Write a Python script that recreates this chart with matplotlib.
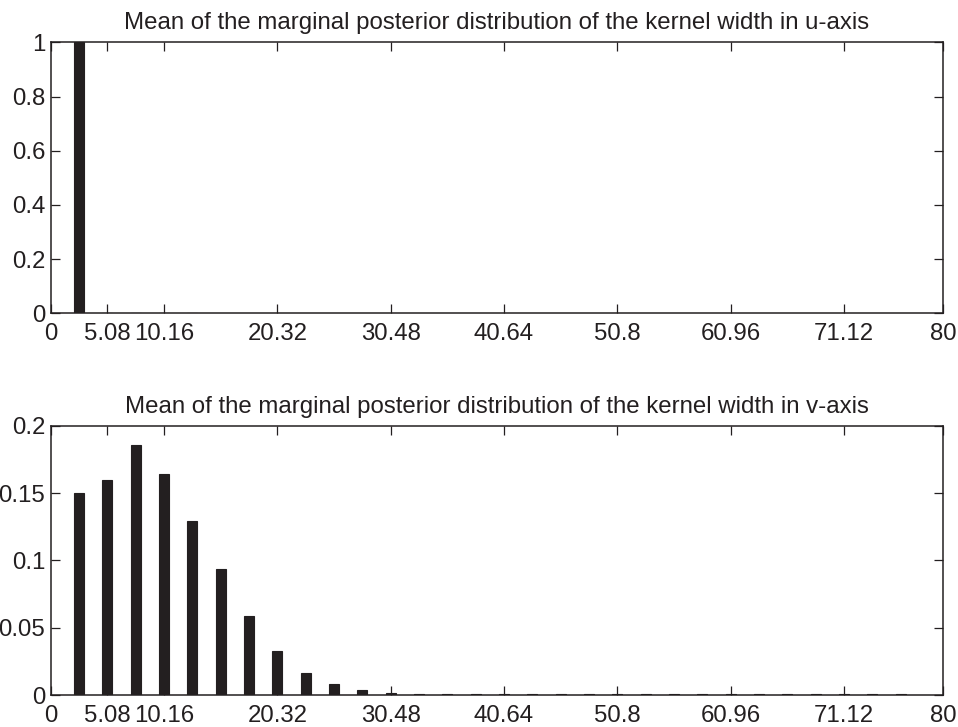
import matplotlib
matplotlib.use("Agg")
import matplotlib.pyplot as plt

# kernel width bins (u and v share the same grid)
widths = [2.54, 5.08, 7.62, 10.16, 12.70, 15.24, 17.78, 20.32, 22.86, 25.40,
          27.94, 30.48, 33.02, 35.56, 38.10, 40.64, 43.18, 45.72, 48.26, 50.80,
          53.34, 55.88, 58.42, 60.96, 63.50, 66.04, 68.58, 71.12, 73.66, 76.20]

u_probs = [1.0, 0.0008, 0.0008, 0.0008, 0.0008]

v_probs = [0.150, 0.160, 0.186, 0.164, 0.1295, 0.0935, 0.0589, 0.0327, 0.0161, 0.0079,
           0.0037, 0.0013, 0.0008, 0.0008, 0.0008, 0.0008, 0.0008, 0.0008, 0.0008, 0.0008,
           0.0008, 0.0008, 0.0008, 0.0008, 0.0008, 0.0008, 0.0008, 0.0008, 0.0008, 0.0008]

xticks = [0, 5.08, 10.16, 20.32, 30.48, 40.64, 50.8, 60.96, 71.12, 80]
xticklabels = ["0", "5.08", "10.16", "20.32", "30.48", "40.64", "50.8", "60.96", "71.12", "80"]

u_yticks = [0, 0.2, 0.4, 0.6, 0.8, 1]
u_yticklabels = ["0", "0.2", "0.4", "0.6", "0.8", "1"]
v_yticks = [0, 0.05, 0.1, 0.15, 0.2]
v_yticklabels = ["0", "0.05", "0.1", "0.15", "0.2"]

ink = "#231f20"
plt.rcParams["font.family"] = ["Liberation Sans", "DejaVu Sans"]
plt.rcParams["text.color"] = ink

fig = plt.figure(figsize=(9.58, 7.27), dpi=100)
ax1 = fig.add_axes([0.0529, 0.5690, 0.9314, 0.3728])
ax2 = fig.add_axes([0.0529, 0.0440, 0.9314, 0.3704])


def style(ax, yticks, yticklabels, ymax, title):
    ax.set_xlim(0, 80)
    ax.set_ylim(0, ymax)
    ax.set_xticks(xticks)
    ax.set_xticklabels(xticklabels)
    ax.set_yticks(yticks)
    ax.set_yticklabels(yticklabels)
    ax.tick_params(direction="in", length=6.8, width=0.9, colors=ink,
                   labelsize=17.3, top=True, right=True)
    ax.tick_params(axis="x", pad=7)
    ax.tick_params(axis="y", pad=4)
    for s in ax.spines.values():
        s.set_color(ink)
        s.set_linewidth(1.1)
    ax.set_title(title, fontsize=17.3, pad=9.5, color=ink)


ax1.bar(widths[:len(u_probs)], u_probs, width=0.9, color=ink, edgecolor=ink,
        linewidth=0.8, zorder=3)
style(ax1, u_yticks, u_yticklabels, 1,
      "Mean of the marginal posterior distribution of the kernel width in u-axis")

ax2.bar(widths, v_probs, width=0.9, color=ink, edgecolor=ink, linewidth=0.8, zorder=3)
style(ax2, v_yticks, v_yticklabels, 0.2,
      "Mean of the marginal posterior distribution of the kernel width in v-axis")

fig.savefig("out.png", dpi=100)
